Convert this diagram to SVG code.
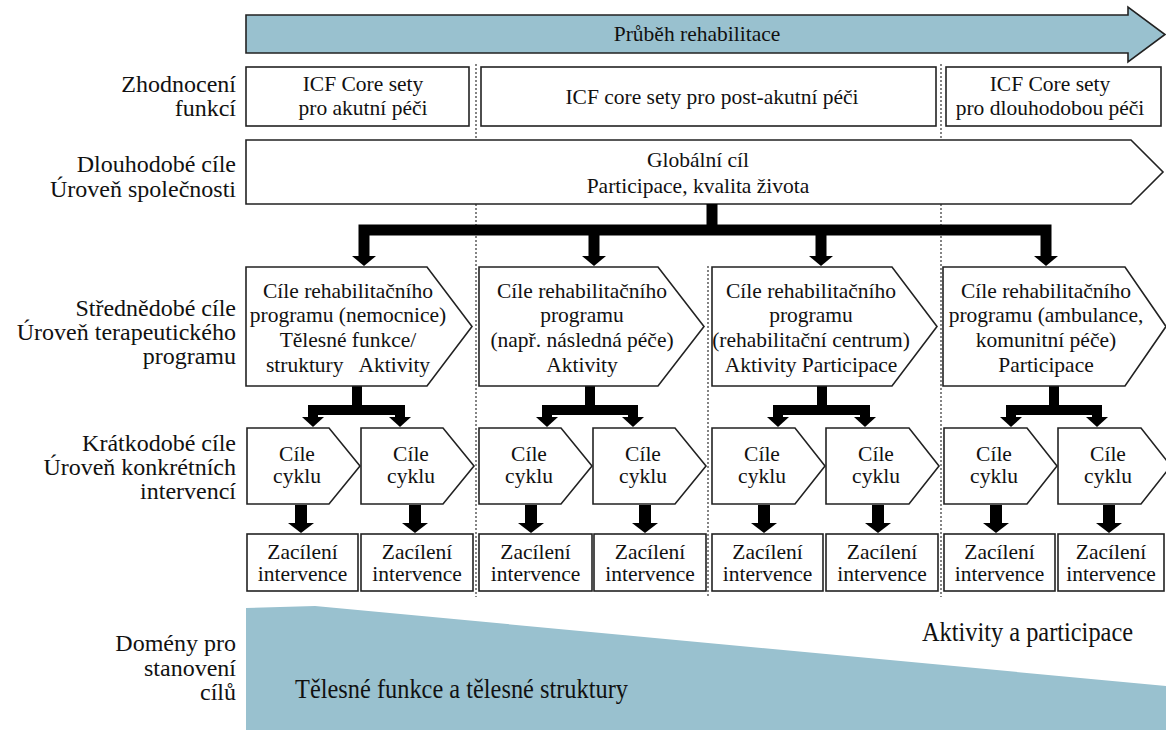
<svg xmlns="http://www.w3.org/2000/svg" width="1166" height="730" viewBox="0 0 1166 730">
<style>
text{font-family:"Liberation Serif","Times New Roman",serif;font-size:21.5px;fill:#111;text-anchor:middle}
.lbl{font-size:24px;text-anchor:end}
.box{fill:#fff;stroke:#222;stroke-width:1.6}
.blue{fill:#99c1cf;stroke:#222;stroke-width:1.6}
.sep{stroke:#333;stroke-width:1.2;stroke-dasharray:2,2;fill:none}
.bar{fill:none;stroke:#000;stroke-linejoin:miter}
.head{fill:#000}
</style>
<g id="separators">
<line class="sep" x1="476" y1="64" x2="476" y2="597"/>
<line class="sep" x1="941" y1="64" x2="941" y2="597"/>
<line class="sep" x1="708" y1="266" x2="708" y2="597"/>
</g>
<g id="labels">
<text class="lbl" x="236" y="92">Zhodnocení</text>
<text class="lbl" x="236" y="116">funkcí</text>
<text class="lbl" x="236" y="172">Dlouhodobé cíle</text>
<text class="lbl" x="236" y="197">Úroveň společnosti</text>
<text class="lbl" x="236" y="316">Střednědobé cíle</text>
<text class="lbl" x="236" y="340">Úroveň terapeutického</text>
<text class="lbl" x="236" y="364">programu</text>
<text class="lbl" x="236" y="451">Krátkodobé cíle</text>
<text class="lbl" x="236" y="475">Úroveň konkrétních</text>
<text class="lbl" x="236" y="499">intervencí</text>
<text class="lbl" x="236" y="651">Domény pro</text>
<text class="lbl" x="236" y="676">stanovení</text>
<text class="lbl" x="236" y="700">cílů</text>
</g>
<g id="progress">
<polygon class="blue" points="246,15 1128,15 1128,7 1165,34.5 1128,62 1128,53 246,53"/>
<text x="697" y="41">Průběh rehabilitace</text>
</g>
<g id="icf-acute">
<rect class="box" x="246" y="67" width="223" height="59"/>
<text x="363" y="91">ICF Core sety</text>
<text x="363" y="115">pro akutní péči</text>
</g>
<g id="icf-postacute">
<rect class="box" x="481" y="67" width="455" height="59"/>
<text x="712" y="104">ICF core sety pro post-akutní péči</text>
</g>
<g id="icf-longterm">
<rect class="box" x="946" y="67" width="215" height="59"/>
<text x="1050" y="91">ICF Core sety</text>
<text x="1050" y="115">pro dlouhodobou péči</text>
</g>
<g id="global-goal">
<polygon class="box" points="246,140 1131,140 1163,172 1131,204 246,204"/>
<text x="698" y="167">Globální cíl</text>
<text x="698" y="193">Participace, kvalita života</text>
</g>
<g id="connectors">
<path class="bar" stroke-width="11" d="M712,204 V230 M364,257 V230 H1046 V257 M594,230 V257 M821,230 V257"/>
<polygon class="head" points="352,256 376,256 364,266"/>
<polygon class="head" points="582,256 606,256 594,266"/>
<polygon class="head" points="809,256 833,256 821,266"/>
<polygon class="head" points="1034,256 1058,256 1046,266"/>
<path class="bar" stroke-width="10" d="M357,386 V410 M313,418 V410 H400 V418 M590,386 V410 M547,418 V410 H633 V418 M822,386 V410 M778,418 V410 H865 V418 M1054,386 V410 M1011,418 V410 H1097 V418"/>
<polygon class="head" points="302,417 324,417 313,427"/>
<polygon class="head" points="389,417 411,417 400,427"/>
<polygon class="head" points="536,417 558,417 547,427"/>
<polygon class="head" points="622,417 644,417 633,427"/>
<polygon class="head" points="767,417 789,417 778,427"/>
<polygon class="head" points="854,417 876,417 865,427"/>
<polygon class="head" points="1000,417 1022,417 1011,427"/>
<polygon class="head" points="1086,417 1108,417 1097,427"/>
<path class="bar" stroke-width="12" d="M301,505 V524 M415,505 V524 M531,505 V524 M645,505 V524 M764,505 V524 M878,505 V524 M996,505 V524 M1109,505 V524"/>
<polygon class="head" points="288,523 314,523 301,533"/>
<polygon class="head" points="402,523 428,523 415,533"/>
<polygon class="head" points="518,523 544,523 531,533"/>
<polygon class="head" points="632,523 658,523 645,533"/>
<polygon class="head" points="751,523 777,523 764,533"/>
<polygon class="head" points="865,523 891,523 878,533"/>
<polygon class="head" points="983,523 1009,523 996,533"/>
<polygon class="head" points="1096,523 1122,523 1109,533"/>
</g>
<g id="program-hospital">
<polygon class="box" points="246,267 427,267 472,326.5 427,386 246,386"/>
<text x="348" y="298">Cíle rehabilitačního</text>
<text x="348" y="322">programu (nemocnice)</text>
<text x="348" y="347">Tělesné funkce/</text>
<text x="348" y="372" xml:space="preserve">struktury   Aktivity</text>
</g>
<g id="program-followup">
<polygon class="box" points="479,267 658,267 704,326.5 658,386 479,386"/>
<text x="582" y="298">Cíle rehabilitačního</text>
<text x="582" y="322">programu</text>
<text x="582" y="347">(např. následná péče)</text>
<text x="582" y="372">Aktivity</text>
</g>
<g id="program-rehab-centre">
<polygon class="box" points="712,267 892,267 937,326.5 892,386 712,386"/>
<text x="811" y="298">Cíle rehabilitačního</text>
<text x="811" y="322">programu</text>
<text x="811" y="347">(rehabilitační centrum)</text>
<text x="811" y="372">Aktivity Participace</text>
</g>
<g id="program-community">
<polygon class="box" points="943,267 1125,267 1166,326.5 1125,386 943,386"/>
<text x="1046" y="298">Cíle rehabilitačního</text>
<text x="1046" y="322">programu (ambulance,</text>
<text x="1046" y="347">komunitní péče)</text>
<text x="1046" y="372">Participace</text>
</g>
<g id="cycle-1"><polygon class="box" points="247,428 329,428 360,466 329,504 247,504"/><text x="297" y="461">Cíle</text><text x="297" y="483">cyklu</text></g>
<g id="cycle-2"><polygon class="box" points="361,428 443,428 474,466 443,504 361,504"/><text x="411" y="461">Cíle</text><text x="411" y="483">cyklu</text></g>
<g id="cycle-3"><polygon class="box" points="479,428 561,428 592,466 561,504 479,504"/><text x="529" y="461">Cíle</text><text x="529" y="483">cyklu</text></g>
<g id="cycle-4"><polygon class="box" points="593,428 675,428 706,466 675,504 593,504"/><text x="643" y="461">Cíle</text><text x="643" y="483">cyklu</text></g>
<g id="cycle-5"><polygon class="box" points="712,428 795,428 825,466 795,504 712,504"/><text x="762" y="461">Cíle</text><text x="762" y="483">cyklu</text></g>
<g id="cycle-6"><polygon class="box" points="826,428 909,428 939,466 909,504 826,504"/><text x="876" y="461">Cíle</text><text x="876" y="483">cyklu</text></g>
<g id="cycle-7"><polygon class="box" points="944,428 1027,428 1057,466 1027,504 944,504"/><text x="994" y="461">Cíle</text><text x="994" y="483">cyklu</text></g>
<g id="cycle-8"><polygon class="box" points="1058,428 1141,428 1171,466 1141,504 1058,504"/><text x="1108" y="461">Cíle</text><text x="1108" y="483">cyklu</text></g>
<g id="intervention-1"><rect class="box" x="247" y="534" width="111" height="57"/><text x="302.5" y="559">Zacílení</text><text x="302.5" y="581">intervence</text></g>
<g id="intervention-2"><rect class="box" x="361" y="534" width="112" height="57"/><text x="417" y="559">Zacílení</text><text x="417" y="581">intervence</text></g>
<g id="intervention-3"><rect class="box" x="479" y="534" width="113" height="57"/><text x="535.5" y="559">Zacílení</text><text x="535.5" y="581">intervence</text></g>
<g id="intervention-4"><rect class="box" x="594" y="534" width="112" height="57"/><text x="650" y="559">Zacílení</text><text x="650" y="581">intervence</text></g>
<g id="intervention-5"><rect class="box" x="712" y="534" width="111" height="57"/><text x="767.5" y="559">Zacílení</text><text x="767.5" y="581">intervence</text></g>
<g id="intervention-6"><rect class="box" x="826" y="534" width="112" height="57"/><text x="882" y="559">Zacílení</text><text x="882" y="581">intervence</text></g>
<g id="intervention-7"><rect class="box" x="944" y="534" width="111" height="57"/><text x="999.5" y="559">Zacílení</text><text x="999.5" y="581">intervence</text></g>
<g id="intervention-8"><rect class="box" x="1058" y="534" width="106" height="57"/><text x="1111" y="559">Zacílení</text><text x="1111" y="581">intervence</text></g>
<g id="domains">
<polygon fill="#99c1cf" points="246,608 315,606 1166,686 1166,730 246,730"/>
<text x="922" y="641" style="text-anchor:start;font-size:27px" textLength="211" lengthAdjust="spacingAndGlyphs">Aktivity a participace</text>
<text x="295" y="698" style="text-anchor:start;font-size:28px" textLength="333" lengthAdjust="spacingAndGlyphs">Tělesné funkce a tělesné struktury</text>
</g>
</svg>
